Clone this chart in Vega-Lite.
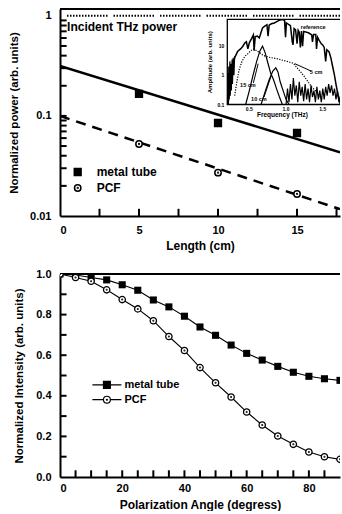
{
  "$schema": "https://vega.github.io/schema/vega-lite/v6.json",
  "padding": {"left": 8, "top": 8, "right": 0, "bottom": 0},
  "background": "white",
  "spacing": 58,
  "bounds": "flush",
  "resolve": {"scale": {"color": "independent", "shape": "independent"}, "legend": {"color": "independent", "shape": "independent"}},
  "config": {
    "font": "Liberation Sans",
    "view": {"stroke": null},
    "axis": {
      "grid": false, "labelOverlap": false, "ticks": false,
      "domainColor": "black", "domainWidth": 2,
      "labelColor": "black", "labelFont": "Liberation Sans", "labelFontWeight": "bold", "labelFontSize": 11,
      "titleColor": "black", "titleFont": "Liberation Sans", "titleFontWeight": "bold", "titleFontSize": 12
    },
    "legend": {"labelFont": "Liberation Sans", "labelFontWeight": "bold", "labelColor": "black"}
  },
  "datasets": {
    "power": [
      {"len": 5, "val": 0.166, "type": "metal tube"},
      {"len": 10, "val": 0.085, "type": "metal tube"},
      {"len": 15, "val": 0.0675, "type": "metal tube"},
      {"len": 5, "val": 0.0524, "type": "PCF"},
      {"len": 10, "val": 0.0271, "type": "PCF"},
      {"len": 15, "val": 0.0166, "type": "PCF"}
    ],
    "fits": [
      {"len": 0, "val": 0.315, "fit": "metal tube"},
      {"len": 17.72, "val": 0.0433, "fit": "metal tube"},
      {"len": 0, "val": 0.0998, "fit": "PCF"},
      {"len": 17.72, "val": 0.0117, "fit": "PCF"}
    ],
    "ticksTopX": [{"len": 2.5}, {"len": 5}, {"len": 7.5}, {"len": 10}, {"len": 12.5}, {"len": 15}, {"len": 17.5}],
    "ticksTopY": [{"val": 0.02}, {"val": 0.03}, {"val": 0.04}, {"val": 0.05}, {"val": 0.06}, {"val": 0.07}, {"val": 0.08}, {"val": 0.09}, {"val": 0.1}, {"val": 0.2}, {"val": 0.3}, {"val": 0.4}, {"val": 0.5}, {"val": 0.6}, {"val": 0.7}, {"val": 0.8}, {"val": 0.9}],
    "ticksBotX": [{"angle": 5}, {"angle": 10}, {"angle": 15}, {"angle": 20}, {"angle": 25}, {"angle": 30}, {"angle": 35}, {"angle": 40}, {"angle": 45}, {"angle": 50}, {"angle": 55}, {"angle": 60}, {"angle": 65}, {"angle": 70}, {"angle": 75}, {"angle": 80}, {"angle": 85}],
    "ticksBotY": [{"val": 0.1}, {"val": 0.2}, {"val": 0.3}, {"val": 0.4}, {"val": 0.5}, {"val": 0.6}, {"val": 0.7}, {"val": 0.8}, {"val": 0.9}],
    "polar": [
      {"angle": 0, "val": 1.0, "type": "metal tube"},
      {"angle": 5, "val": 0.995, "type": "metal tube"},
      {"angle": 10, "val": 0.983, "type": "metal tube"},
      {"angle": 15, "val": 0.971, "type": "metal tube"},
      {"angle": 20, "val": 0.947, "type": "metal tube"},
      {"angle": 25, "val": 0.92, "type": "metal tube"},
      {"angle": 30, "val": 0.872, "type": "metal tube"},
      {"angle": 35, "val": 0.838, "type": "metal tube"},
      {"angle": 40, "val": 0.792, "type": "metal tube"},
      {"angle": 45, "val": 0.739, "type": "metal tube"},
      {"angle": 50, "val": 0.698, "type": "metal tube"},
      {"angle": 55, "val": 0.65, "type": "metal tube"},
      {"angle": 60, "val": 0.609, "type": "metal tube"},
      {"angle": 65, "val": 0.576, "type": "metal tube"},
      {"angle": 70, "val": 0.545, "type": "metal tube"},
      {"angle": 75, "val": 0.516, "type": "metal tube"},
      {"angle": 80, "val": 0.496, "type": "metal tube"},
      {"angle": 85, "val": 0.484, "type": "metal tube"},
      {"angle": 90, "val": 0.476, "type": "metal tube"},
      {"angle": 0, "val": 1.0, "type": "PCF"},
      {"angle": 5, "val": 0.983, "type": "PCF"},
      {"angle": 10, "val": 0.964, "type": "PCF"},
      {"angle": 15, "val": 0.922, "type": "PCF"},
      {"angle": 20, "val": 0.874, "type": "PCF"},
      {"angle": 25, "val": 0.828, "type": "PCF"},
      {"angle": 30, "val": 0.77, "type": "PCF"},
      {"angle": 35, "val": 0.692, "type": "PCF"},
      {"angle": 40, "val": 0.623, "type": "PCF"},
      {"angle": 45, "val": 0.539, "type": "PCF"},
      {"angle": 50, "val": 0.464, "type": "PCF"},
      {"angle": 55, "val": 0.394, "type": "PCF"},
      {"angle": 60, "val": 0.32, "type": "PCF"},
      {"angle": 65, "val": 0.256, "type": "PCF"},
      {"angle": 70, "val": 0.202, "type": "PCF"},
      {"angle": 75, "val": 0.161, "type": "PCF"},
      {"angle": 80, "val": 0.123, "type": "PCF"},
      {"angle": 85, "val": 0.1, "type": "PCF"},
      {"angle": 90, "val": 0.087, "type": "PCF"}
    ],
    "spectra": [
      {"f": 0.21, "a": 0.1, "s": "reference"}, {"f": 0.23, "a": 0.3, "s": "reference"}, {"f": 0.25, "a": 0.9, "s": "reference"},
      {"f": 0.27, "a": 2.3, "s": "reference"}, {"f": 0.3, "a": 4, "s": "reference"}, {"f": 0.34, "a": 6.5, "s": "reference"},
      {"f": 0.38, "a": 8, "s": "reference"}, {"f": 0.41, "a": 9.7, "s": "reference"}, {"f": 0.44, "a": 13, "s": "reference"},
      {"f": 0.46, "a": 14, "s": "reference"}, {"f": 0.48, "a": 8, "s": "reference"}, {"f": 0.5, "a": 13, "s": "reference"},
      {"f": 0.53, "a": 18, "s": "reference"}, {"f": 0.555, "a": 24, "s": "reference"}, {"f": 0.565, "a": 7, "s": "reference"},
      {"f": 0.58, "a": 21, "s": "reference"}, {"f": 0.61, "a": 22, "s": "reference"}, {"f": 0.636, "a": 19, "s": "reference"},
      {"f": 0.66, "a": 30, "s": "reference"}, {"f": 0.68, "a": 42, "s": "reference"}, {"f": 0.71, "a": 48, "s": "reference"},
      {"f": 0.74, "a": 54, "s": "reference"}, {"f": 0.755, "a": 22, "s": "reference"}, {"f": 0.77, "a": 52, "s": "reference"},
      {"f": 0.8, "a": 58, "s": "reference"}, {"f": 0.84, "a": 62, "s": "reference"}, {"f": 0.88, "a": 70, "s": "reference"},
      {"f": 0.91, "a": 77, "s": "reference"}, {"f": 0.93, "a": 80, "s": "reference"}, {"f": 0.96, "a": 80, "s": "reference"},
      {"f": 0.98, "a": 76, "s": "reference"}, {"f": 0.993, "a": 20, "s": "reference"}, {"f": 1.005, "a": 62, "s": "reference"},
      {"f": 1.03, "a": 56, "s": "reference"}, {"f": 1.06, "a": 50, "s": "reference"}, {"f": 1.085, "a": 14, "s": "reference"},
      {"f": 1.095, "a": 11, "s": "reference"}, {"f": 1.11, "a": 40, "s": "reference"}, {"f": 1.13, "a": 36, "s": "reference"},
      {"f": 1.15, "a": 12, "s": "reference"}, {"f": 1.165, "a": 35, "s": "reference"}, {"f": 1.18, "a": 30, "s": "reference"},
      {"f": 1.195, "a": 9, "s": "reference"}, {"f": 1.21, "a": 33, "s": "reference"}, {"f": 1.225, "a": 10, "s": "reference"},
      {"f": 1.24, "a": 32, "s": "reference"}, {"f": 1.28, "a": 30, "s": "reference"}, {"f": 1.31, "a": 28, "s": "reference"},
      {"f": 1.35, "a": 24, "s": "reference"}, {"f": 1.36, "a": 14, "s": "reference"}, {"f": 1.375, "a": 25, "s": "reference"},
      {"f": 1.405, "a": 25, "s": "reference"}, {"f": 1.415, "a": 8, "s": "reference"}, {"f": 1.43, "a": 20, "s": "reference"},
      {"f": 1.45, "a": 16, "s": "reference"}, {"f": 1.48, "a": 12, "s": "reference"}, {"f": 1.5, "a": 11, "s": "reference"},
      {"f": 1.52, "a": 9, "s": "reference"}, {"f": 1.54, "a": 3, "s": "reference"}, {"f": 1.555, "a": 7.5, "s": "reference"},
      {"f": 1.585, "a": 6.5, "s": "reference"}, {"f": 1.61, "a": 4, "s": "reference"}, {"f": 1.63, "a": 2.3, "s": "reference"},
      {"f": 1.66, "a": 1.0, "s": "reference"}, {"f": 1.68, "a": 0.5, "s": "reference"}, {"f": 1.7, "a": 0.27, "s": "reference"},
      {"f": 1.72, "a": 0.15, "s": "reference"}, {"f": 1.74, "a": 0.1, "s": "reference"},
      {"f": 0.3, "a": 0.2, "s": "5 cm"}, {"f": 0.33, "a": 0.6, "s": "5 cm"}, {"f": 0.36, "a": 1.5, "s": "5 cm"},
      {"f": 0.4, "a": 3, "s": "5 cm"}, {"f": 0.44, "a": 4.5, "s": "5 cm"}, {"f": 0.48, "a": 5.5, "s": "5 cm"},
      {"f": 0.52, "a": 7, "s": "5 cm"}, {"f": 0.56, "a": 8, "s": "5 cm"}, {"f": 0.6, "a": 7, "s": "5 cm"},
      {"f": 0.64, "a": 6, "s": "5 cm"}, {"f": 0.68, "a": 5, "s": "5 cm"}, {"f": 0.72, "a": 4.5, "s": "5 cm"},
      {"f": 0.76, "a": 4.2, "s": "5 cm"}, {"f": 0.8, "a": 4, "s": "5 cm"}, {"f": 0.85, "a": 3.8, "s": "5 cm"},
      {"f": 0.9, "a": 3.6, "s": "5 cm"}, {"f": 0.95, "a": 3.3, "s": "5 cm"}, {"f": 1.0, "a": 3.1, "s": "5 cm"},
      {"f": 1.05, "a": 2.8, "s": "5 cm"}, {"f": 1.1, "a": 2.6, "s": "5 cm"}, {"f": 1.15, "a": 1.8, "s": "5 cm"},
      {"f": 1.2, "a": 1.3, "s": "5 cm"}, {"f": 1.25, "a": 0.9, "s": "5 cm"}, {"f": 1.3, "a": 0.6, "s": "5 cm"},
      {"f": 1.35, "a": 0.4, "s": "5 cm"}, {"f": 1.4, "a": 0.3, "s": "5 cm"}, {"f": 1.45, "a": 0.2, "s": "5 cm"},
      {"f": 1.5, "a": 0.14, "s": "5 cm"},
      {"f": 0.45, "a": 0.1, "s": "15 cm"}, {"f": 0.5, "a": 0.3, "s": "15 cm"}, {"f": 0.55, "a": 1, "s": "15 cm"},
      {"f": 0.6, "a": 3, "s": "15 cm"}, {"f": 0.645, "a": 7, "s": "15 cm"}, {"f": 0.68, "a": 10, "s": "15 cm"},
      {"f": 0.715, "a": 6, "s": "15 cm"}, {"f": 0.75, "a": 2.8, "s": "15 cm"}, {"f": 0.79, "a": 1.2, "s": "15 cm"},
      {"f": 0.83, "a": 0.7, "s": "15 cm"}, {"f": 0.87, "a": 0.35, "s": "15 cm"}, {"f": 0.91, "a": 0.18, "s": "15 cm"},
      {"f": 0.95, "a": 0.1, "s": "15 cm"},
      {"f": 0.66, "a": 0.1, "s": "10 cm"}, {"f": 0.72, "a": 0.3, "s": "10 cm"}, {"f": 0.77, "a": 0.7, "s": "10 cm"},
      {"f": 0.82, "a": 1.4, "s": "10 cm"}, {"f": 0.86, "a": 1.8, "s": "10 cm"}, {"f": 0.89, "a": 1.3, "s": "10 cm"},
      {"f": 0.92, "a": 0.6, "s": "10 cm"}, {"f": 0.96, "a": 0.3, "s": "10 cm"}, {"f": 1.0, "a": 0.15, "s": "10 cm"},
      {"f": 1.04, "a": 0.1, "s": "10 cm"},
      {"f": 1.0, "a": 0.1, "s": "noise"}, {"f": 1.02, "a": 0.35, "s": "noise"}, {"f": 1.04, "a": 0.12, "s": "noise"},
      {"f": 1.06, "a": 0.5, "s": "noise"}, {"f": 1.08, "a": 0.15, "s": "noise"}, {"f": 1.1, "a": 0.8, "s": "noise"},
      {"f": 1.12, "a": 0.2, "s": "noise"}, {"f": 1.14, "a": 0.45, "s": "noise"}, {"f": 1.16, "a": 0.12, "s": "noise"},
      {"f": 1.18, "a": 0.6, "s": "noise"}, {"f": 1.2, "a": 0.2, "s": "noise"}, {"f": 1.22, "a": 0.4, "s": "noise"},
      {"f": 1.24, "a": 0.13, "s": "noise"}, {"f": 1.26, "a": 0.5, "s": "noise"}, {"f": 1.28, "a": 0.15, "s": "noise"},
      {"f": 1.3, "a": 0.35, "s": "noise"}, {"f": 1.32, "a": 0.12, "s": "noise"}, {"f": 1.34, "a": 0.45, "s": "noise"},
      {"f": 1.36, "a": 0.18, "s": "noise"}, {"f": 1.38, "a": 0.3, "s": "noise"}, {"f": 1.4, "a": 0.12, "s": "noise"},
      {"f": 1.42, "a": 0.4, "s": "noise"}, {"f": 1.44, "a": 0.15, "s": "noise"}, {"f": 1.46, "a": 0.3, "s": "noise"},
      {"f": 1.48, "a": 0.12, "s": "noise"}, {"f": 1.5, "a": 0.35, "s": "noise"}, {"f": 1.52, "a": 0.15, "s": "noise"},
      {"f": 1.54, "a": 0.4, "s": "noise"}, {"f": 1.56, "a": 0.2, "s": "noise"}, {"f": 1.58, "a": 0.5, "s": "noise"},
      {"f": 1.6, "a": 0.25, "s": "noise"}, {"f": 1.62, "a": 0.45, "s": "noise"}, {"f": 1.64, "a": 0.2, "s": "noise"},
      {"f": 1.66, "a": 0.35, "s": "noise"}, {"f": 1.68, "a": 0.15, "s": "noise"}, {"f": 1.7, "a": 0.3, "s": "noise"},
      {"f": 1.72, "a": 0.12, "s": "noise"}, {"f": 1.74, "a": 0.2, "s": "noise"},
      {"f": 0.205, "a": 0.1, "s": "noise2"}, {"f": 0.21, "a": 1.2, "s": "noise2"}, {"f": 0.215, "a": 0.1, "s": "noise2"},
      {"f": 0.22, "a": 2, "s": "noise2"}, {"f": 0.225, "a": 0.15, "s": "noise2"}, {"f": 0.235, "a": 3, "s": "noise2"},
      {"f": 0.24, "a": 0.2, "s": "noise2"}, {"f": 0.25, "a": 2.5, "s": "noise2"}, {"f": 0.255, "a": 0.3, "s": "noise2"},
      {"f": 0.265, "a": 3.5, "s": "noise2"}, {"f": 0.27, "a": 0.5, "s": "noise2"}, {"f": 0.28, "a": 4, "s": "noise2"},
      {"f": 0.29, "a": 1, "s": "noise2"}, {"f": 0.3, "a": 4.5, "s": "noise2"}
    ]
  },
  "vconcat": [
    {
      "width": 280,
      "height": 207,
      "layer": [
        {
          "layer": [
            {
              "data": {"values": [{}]},
              "mark": {"type": "rule", "color": "black", "strokeWidth": 2},
              "encoding": {"y": {"datum": 1.17, "type": "quantitative", "scale": {"type": "log", "domain": [0.01, 1.17], "nice": false}}}
            },
            {
              "data": {"values": [{}]},
              "mark": {"type": "rule", "color": "black", "strokeWidth": 2, "strokeDash": [1.5,1.5,1.5,1.5,1.5,1.5,1.5,1.5,1.5,1.5,1.5,1.5,1.5,1.5,1.5,1.5,1.5,1.5,1.5,1.5,1.5,1.5,1.5,1.5,1.5,1.5,1.5,6]},
              "encoding": {"y": {"datum": 1, "type": "quantitative", "scale": {"type": "log", "domain": [0.01, 1.17], "nice": false}}}
            },
            {
              "data": {"name": "ticksTopX"},
              "mark": {"type": "rule", "color": "black", "strokeWidth": 2},
              "encoding": {
                "x": {"field": "len", "type": "quantitative", "scale": {"domain": [0, 17.72], "nice": false, "zero": false}},
                "y": {"datum": 0.01, "type": "quantitative", "scale": {"type": "log", "domain": [0.01, 1.17], "nice": false}},
                "y2": {"datum": 0.0118}
              }
            },
            {
              "data": {"name": "ticksTopY"},
              "mark": {"type": "rule", "color": "black", "strokeWidth": 2},
              "encoding": {
                "y": {"field": "val", "type": "quantitative", "scale": {"type": "log", "domain": [0.01, 1.17], "nice": false}},
                "x": {"datum": 0, "type": "quantitative", "scale": {"domain": [0, 17.72], "nice": false, "zero": false}},
                "x2": {"datum": 0.42}
              }
            },
            {
              "data": {"name": "fits"},
              "transform": [{"filter": "datum.fit == 'metal tube'"}],
              "mark": {"type": "line", "color": "black", "strokeWidth": 2.5, "clip": true},
              "encoding": {
                "x": {"field": "len", "type": "quantitative", "scale": {"domain": [0, 17.72], "nice": false, "zero": false}},
                "y": {"field": "val", "type": "quantitative", "scale": {"type": "log", "domain": [0.01, 1.17], "nice": false}}
              }
            },
            {
              "data": {"name": "fits"},
              "transform": [{"filter": "datum.fit == 'PCF'"}],
              "mark": {"type": "line", "color": "black", "strokeWidth": 2.5, "strokeDash": [10, 7], "clip": true},
              "encoding": {
                "x": {"field": "len", "type": "quantitative", "scale": {"domain": [0, 17.72], "nice": false, "zero": false}},
                "y": {"field": "val", "type": "quantitative", "scale": {"type": "log", "domain": [0.01, 1.17], "nice": false}}
              }
            },
            {
              "data": {"name": "power"},
              "mark": {"type": "point", "filled": true, "stroke": "black", "strokeWidth": 1.5, "size": 64, "opacity": 1},
              "encoding": {
                "x": {
                  "field": "len", "type": "quantitative",
                  "scale": {"domain": [0, 17.72], "nice": false, "zero": false},
                  "axis": {
                    "title": "Length (cm)",
                    "values": [0, 5, 10, 15],
                    "labelPadding": 8, "titlePadding": 5
                  }
                },
                "y": {
                  "field": "val", "type": "quantitative",
                  "scale": {"type": "log", "domain": [0.01, 1.17], "nice": false},
                  "axis": {
                    "title": "Normalized power (arb. units)", "titleFontSize": 11.5,
                    "values": [0.01, 0.1, 1],
                    "labelExpr": "datum.value == 1 ? '1' : datum.value == 0.1 ? '0.1' : '0.01'",
                    "labelPadding": 9, "titlePadding": 10.5
                  }
                },
                "color": {
                  "field": "type", "type": "nominal",
                  "scale": {"domain": ["metal tube", "PCF"], "range": ["black", "white"]},
                  "legend": {"title": null, "orient": "none", "legendX": 11.7, "legendY": 157, "labelFontSize": 12, "symbolSize": 64, "symbolStrokeColor": "black", "symbolStrokeWidth": 1.5, "symbolOpacity": 1, "rowPadding": 2, "labelOffset": 13,
                    "encode": {"symbols": {"update": {"stroke": {"value": "black"}, "strokeWidth": {"value": 1.5}}}}}
                },
                "shape": {
                  "field": "type", "type": "nominal",
                  "scale": {"domain": ["metal tube", "PCF"], "range": ["M-0.85,-0.85H0.85V0.85H-0.85Z", "M-0.8,0A0.8,0.8,0,1,0,0.8,0A0.8,0.8,0,1,0,-0.8,0ZM-0.1,0A0.1,0.1,0,1,0,0.1,0A0.1,0.1,0,1,0,-0.1,0Z"]},
                  "legend": {"title": null, "orient": "none", "legendX": 11.7, "legendY": 157, "labelFontSize": 12, "symbolSize": 64, "symbolStrokeColor": "black", "symbolStrokeWidth": 1.5, "symbolOpacity": 1, "rowPadding": 2, "labelOffset": 13,
                    "encode": {"symbols": {"update": {"stroke": {"value": "black"}, "strokeWidth": {"value": 1.5}}}}}
                }
              }
            },
            {
              "data": {"values": [{}]},
              "mark": {"type": "text", "align": "left", "baseline": "middle", "fontSize": 12, "fontWeight": "bold", "color": "black"},
              "encoding": {
                "x": {"datum": 0.45, "type": "quantitative", "scale": {"domain": [0, 17.72], "nice": false, "zero": false}},
                "y": {"datum": 0.77, "type": "quantitative", "scale": {"type": "log", "domain": [0.01, 1.17], "nice": false}},
                "text": {"value": "Incident THz power"}
              }
            }
          ]
        },
        {
          "layer": [
            {
              "data": {"values": [{}]},
              "mark": {"type": "rect", "fill": "white", "stroke": "black", "strokeWidth": 1.3, "clip": true},
              "encoding": {
                "x": {"datum": 0.2, "type": "quantitative", "scale": {"domain": [-2.079, 1.735], "nice": false, "zero": false}, "axis": null},
                "x2": {"datum": 1.9},
                "y": {"datum": 0.1, "type": "quantitative", "scale": {"type": "log", "domain": [1.52e-5, 186.4], "nice": false}, "axis": null},
                "y2": {"datum": 82.7}
              }
            },
            {
              "data": {"name": "spectra"},
              "transform": [{"filter": "datum.s == '15 cm' || datum.s == '10 cm' || datum.s == 'noise' || datum.s == 'noise2'"}],
              "mark": {"type": "line", "color": "black", "strokeWidth": 1.2, "clip": true},
              "encoding": {
                "x": {"field": "f", "type": "quantitative", "scale": {"domain": [-2.079, 1.735], "nice": false, "zero": false}, "axis": null},
                "y": {"field": "a", "type": "quantitative", "scale": {"type": "log", "domain": [1.52e-5, 186.4], "nice": false}, "axis": null},
                "detail": {"field": "s"}
              }
            },
            {
              "data": {"name": "spectra"},
              "transform": [{"filter": "datum.s == 'reference'"}],
              "mark": {"type": "line", "color": "black", "strokeWidth": 1.5, "clip": true},
              "encoding": {
                "x": {"field": "f", "type": "quantitative", "scale": {"domain": [-2.079, 1.735], "nice": false, "zero": false}, "axis": null},
                "y": {"field": "a", "type": "quantitative", "scale": {"type": "log", "domain": [1.52e-5, 186.4], "nice": false}, "axis": null}
              }
            },
            {
              "data": {"name": "spectra"},
              "transform": [{"filter": "datum.s == '5 cm'"}],
              "mark": {"type": "line", "color": "black", "strokeWidth": 1.2, "strokeDash": [1.2, 1.4], "clip": true},
              "encoding": {
                "x": {"field": "f", "type": "quantitative", "scale": {"domain": [-2.079, 1.735], "nice": false, "zero": false}, "axis": null},
                "y": {"field": "a", "type": "quantitative", "scale": {"type": "log", "domain": [1.52e-5, 186.4], "nice": false}, "axis": null}
              }
            },
            {
              "data": {"values": [{}]},
              "mark": {"type": "rule", "color": "black", "strokeWidth": 1},
              "encoding": {
                "x": {"datum": 0.555, "type": "quantitative", "scale": {"domain": [-2.079, 1.735], "nice": false, "zero": false}, "axis": null},
                "x2": {"datum": 0.62},
                "y": {"datum": 0.55, "type": "quantitative", "scale": {"type": "log", "domain": [1.52e-5, 186.4], "nice": false}, "axis": null},
                "y2": {"datum": 2.5}
              }
            },
            {
              "data": {"values": [{}]},
              "mark": {"type": "rule", "color": "black", "strokeWidth": 1},
              "encoding": {
                "x": {"datum": 0.7, "type": "quantitative", "scale": {"domain": [-2.079, 1.735], "nice": false, "zero": false}, "axis": null},
                "x2": {"datum": 0.8},
                "y": {"datum": 0.18, "type": "quantitative", "scale": {"type": "log", "domain": [1.52e-5, 186.4], "nice": false}, "axis": null},
                "y2": {"datum": 1.0}
              }
            },
            {
              "data": {"values": [{}]},
              "mark": {"type": "rule", "color": "black", "strokeWidth": 1},
              "encoding": {
                "x": {"datum": 1.34, "type": "quantitative", "scale": {"domain": [-2.079, 1.735], "nice": false, "zero": false}, "axis": null},
                "x2": {"datum": 1.12},
                "y": {"datum": 1.4, "type": "quantitative", "scale": {"type": "log", "domain": [1.52e-5, 186.4], "nice": false}, "axis": null},
                "y2": {"datum": 2.5}
              }
            },
            {
              "data": {"values": [{}]},
              "mark": {"type": "text", "align": "center", "baseline": "middle", "fontSize": 5.5, "fontWeight": "bold", "color": "black"},
              "encoding": {
                "x": {"datum": 1.37, "type": "quantitative", "scale": {"domain": [-2.079, 1.735], "nice": false, "zero": false}, "axis": null},
                "y": {"datum": 46, "type": "quantitative", "scale": {"type": "log", "domain": [1.52e-5, 186.4], "nice": false}, "axis": null},
                "text": {"value": "reference"}
              }
            },
            {
              "data": {"values": [{}]},
              "mark": {"type": "text", "align": "center", "baseline": "middle", "fontSize": 5.5, "fontWeight": "bold", "color": "black"},
              "encoding": {
                "x": {"datum": 1.41, "type": "quantitative", "scale": {"domain": [-2.079, 1.735], "nice": false, "zero": false}, "axis": null},
                "y": {"datum": 1.3, "type": "quantitative", "scale": {"type": "log", "domain": [1.52e-5, 186.4], "nice": false}, "axis": null},
                "text": {"value": "5 cm"}
              }
            },
            {
              "data": {"values": [{}]},
              "mark": {"type": "text", "align": "center", "baseline": "middle", "fontSize": 5.5, "fontWeight": "bold", "color": "black"},
              "encoding": {
                "x": {"datum": 0.48, "type": "quantitative", "scale": {"domain": [-2.079, 1.735], "nice": false, "zero": false}, "axis": null},
                "y": {"datum": 0.46, "type": "quantitative", "scale": {"type": "log", "domain": [1.52e-5, 186.4], "nice": false}, "axis": null},
                "text": {"value": "15 cm"}
              }
            },
            {
              "data": {"values": [{}]},
              "mark": {"type": "text", "align": "center", "baseline": "middle", "fontSize": 5.5, "fontWeight": "bold", "color": "black"},
              "encoding": {
                "x": {"datum": 0.63, "type": "quantitative", "scale": {"domain": [-2.079, 1.735], "nice": false, "zero": false}, "axis": null},
                "y": {"datum": 0.15, "type": "quantitative", "scale": {"type": "log", "domain": [1.52e-5, 186.4], "nice": false}, "axis": null},
                "text": {"value": "10 cm"}
              }
            },
            {
              "data": {"values": [{"t": "0.5", "p": 0.5}, {"t": "1.0", "p": 1.0}, {"t": "1.5", "p": 1.5}]},
              "mark": {"type": "text", "align": "center", "baseline": "middle", "fontSize": 5, "fontWeight": "bold", "color": "black"},
              "encoding": {
                "x": {"field": "p", "type": "quantitative", "scale": {"domain": [-2.079, 1.735], "nice": false, "zero": false}, "axis": null},
                "y": {"datum": 0.07, "type": "quantitative", "scale": {"type": "log", "domain": [1.52e-5, 186.4], "nice": false}, "axis": null},
                "text": {"field": "t"}
              }
            },
            {
              "data": {"values": [{"t": "10", "p": 10}, {"t": "1", "p": 1}, {"t": "0.1", "p": 0.1}]},
              "mark": {"type": "text", "align": "right", "baseline": "middle", "fontSize": 5, "fontWeight": "bold", "color": "black"},
              "encoding": {
                "x": {"datum": 0.16, "type": "quantitative", "scale": {"domain": [-2.079, 1.735], "nice": false, "zero": false}, "axis": null},
                "y": {"field": "p", "type": "quantitative", "scale": {"type": "log", "domain": [1.52e-5, 186.4], "nice": false}, "axis": null},
                "text": {"field": "t"}
              }
            },
            {
              "data": {"values": [{}]},
              "mark": {"type": "text", "align": "center", "baseline": "middle", "fontSize": 6.5, "fontWeight": "bold", "color": "black"},
              "encoding": {
                "x": {"datum": 0.95, "type": "quantitative", "scale": {"domain": [-2.079, 1.735], "nice": false, "zero": false}, "axis": null},
                "y": {"datum": 0.045, "type": "quantitative", "scale": {"type": "log", "domain": [1.52e-5, 186.4], "nice": false}, "axis": null},
                "text": {"value": "Frequency (THz)"}
              }
            },
            {
              "data": {"values": [{}]},
              "mark": {"type": "text", "align": "center", "baseline": "middle", "fontSize": 6, "fontWeight": "bold", "color": "black", "angle": 270},
              "encoding": {
                "x": {"datum": -0.04, "type": "quantitative", "scale": {"domain": [-2.079, 1.735], "nice": false, "zero": false}, "axis": null},
                "y": {"datum": 2.8, "type": "quantitative", "scale": {"type": "log", "domain": [1.52e-5, 186.4], "nice": false}, "axis": null},
                "text": {"value": "Amplitude (arb. units)"}
              }
            }
          ]
        }
      ],
      "resolve": {"scale": {"x": "independent", "y": "independent"}}
    },
    {
      "width": 280,
      "height": 203,
      "data": {"name": "polar"},
      "layer": [
        {
          "data": {"values": [{}]},
          "mark": {"type": "rule", "color": "black", "strokeWidth": 2},
          "encoding": {"y": {"datum": 1, "type": "quantitative", "scale": {"domain": [0, 1], "nice": false, "zero": false}}}
        },
        {
          "data": {"name": "ticksBotX"},
          "mark": {"type": "rule", "color": "black", "strokeWidth": 2},
          "encoding": {
            "x": {"field": "angle", "type": "quantitative", "scale": {"domain": [0, 90], "nice": false, "zero": false}},
            "y": {"datum": 0, "type": "quantitative", "scale": {"domain": [0, 1], "nice": false, "zero": false}},
            "y2": {"datum": 0.033}
          }
        },
        {
          "data": {"name": "ticksBotY"},
          "mark": {"type": "rule", "color": "black", "strokeWidth": 2},
          "encoding": {
            "y": {"field": "val", "type": "quantitative", "scale": {"domain": [0, 1], "nice": false, "zero": false}},
            "x": {"datum": 0, "type": "quantitative", "scale": {"domain": [0, 90], "nice": false, "zero": false}},
            "x2": {"datum": 2.1}
          }
        },
        {
          "mark": {"type": "line", "color": "black", "strokeWidth": 1.1, "clip": true},
          "encoding": {
            "x": {
              "field": "angle", "type": "quantitative",
              "scale": {"domain": [0, 90], "nice": false, "zero": false},
              "axis": {
                "title": "Polarization Angle (degress)",
                "values": [0, 10, 20, 30, 40, 50, 60, 70, 80],
                "labelPadding": 5.5, "titlePadding": 6
              }
            },
            "y": {
              "field": "val", "type": "quantitative",
              "scale": {"domain": [0, 1], "nice": false, "zero": false},
              "axis": {
                "title": "Normalized Intensity (arb. units)", "titleFontSize": 11.5,
                "values": [0, 0.2, 0.4, 0.6, 0.8, 1],
                "format": ".1f",
                "labelPadding": 9, "titlePadding": 11
              }
            },
            "detail": {"field": "type"}
          }
        },
        {
          "transform": [{"filter": "datum.type == 'metal tube'"}],
          "mark": {"type": "point", "shape": "square", "filled": true, "color": "black", "size": 50, "opacity": 1, "clip": true},
          "encoding": {
            "x": {"field": "angle", "type": "quantitative", "scale": {"domain": [0, 90], "nice": false, "zero": false}},
            "y": {"field": "val", "type": "quantitative", "scale": {"domain": [0, 1], "nice": false, "zero": false}}
          }
        },
        {
          "transform": [{"filter": "datum.type == 'PCF'"}],
          "mark": {"type": "point", "shape": "M-1,0A1,1,0,1,0,1,0A1,1,0,1,0,-1,0ZM-0.12,0A0.12,0.12,0,1,0,0.12,0A0.12,0.12,0,1,0,-0.12,0Z", "fill": "white", "stroke": "black", "strokeWidth": 1.3, "size": 40, "opacity": 1, "clip": true},
          "encoding": {
            "x": {"field": "angle", "type": "quantitative", "scale": {"domain": [0, 90], "nice": false, "zero": false}},
            "y": {"field": "val", "type": "quantitative", "scale": {"domain": [0, 1], "nice": false, "zero": false}}
          }
        },
        {
          "mark": {"type": "point", "filled": true, "stroke": "black", "opacity": 0},
          "encoding": {
            "x": {"field": "angle", "type": "quantitative", "scale": {"domain": [0, 90], "nice": false, "zero": false}},
            "y": {"field": "val", "type": "quantitative", "scale": {"domain": [0, 1], "nice": false, "zero": false}},
            "color": {
              "field": "type", "type": "nominal",
              "scale": {"domain": ["metal tube", "PCF"], "range": ["black", "white"]},
              "legend": {"title": null, "orient": "none", "legendX": 39.4, "legendY": 103.4, "labelFontSize": 11, "symbolSize": 174, "symbolStrokeColor": "black", "symbolStrokeWidth": 1.2, "symbolOpacity": 1, "rowPadding": 0.8, "labelOffset": 10,
                "encode": {"symbols": {"update": {"stroke": {"value": "black"}, "strokeWidth": {"value": 1.2}, "opacity": {"value": 1}}}}}
            },
            "shape": {
              "field": "type", "type": "nominal",
              "scale": {"domain": ["metal tube", "PCF"], "range": ["M-2.2,0H-0.52M0.52,0H2.2M-0.52,-0.52H0.52V0.52H-0.52Z", "M-2.2,0H-0.52M0.52,0H2.2M-0.52,0A0.52,0.52,0,1,0,0.52,0A0.52,0.52,0,1,0,-0.52,0ZM-0.07,0A0.07,0.07,0,1,0,0.07,0A0.07,0.07,0,1,0,-0.07,0Z"]},
              "legend": {"title": null, "orient": "none", "legendX": 39.4, "legendY": 103.4, "labelFontSize": 11, "symbolSize": 174, "symbolStrokeColor": "black", "symbolStrokeWidth": 1.2, "symbolOpacity": 1, "rowPadding": 0.8, "labelOffset": 10,
                "encode": {"symbols": {"update": {"stroke": {"value": "black"}, "strokeWidth": {"value": 1.2}, "opacity": {"value": 1}}}}}
            }
          }
        }
      ]
    }
  ]
}
